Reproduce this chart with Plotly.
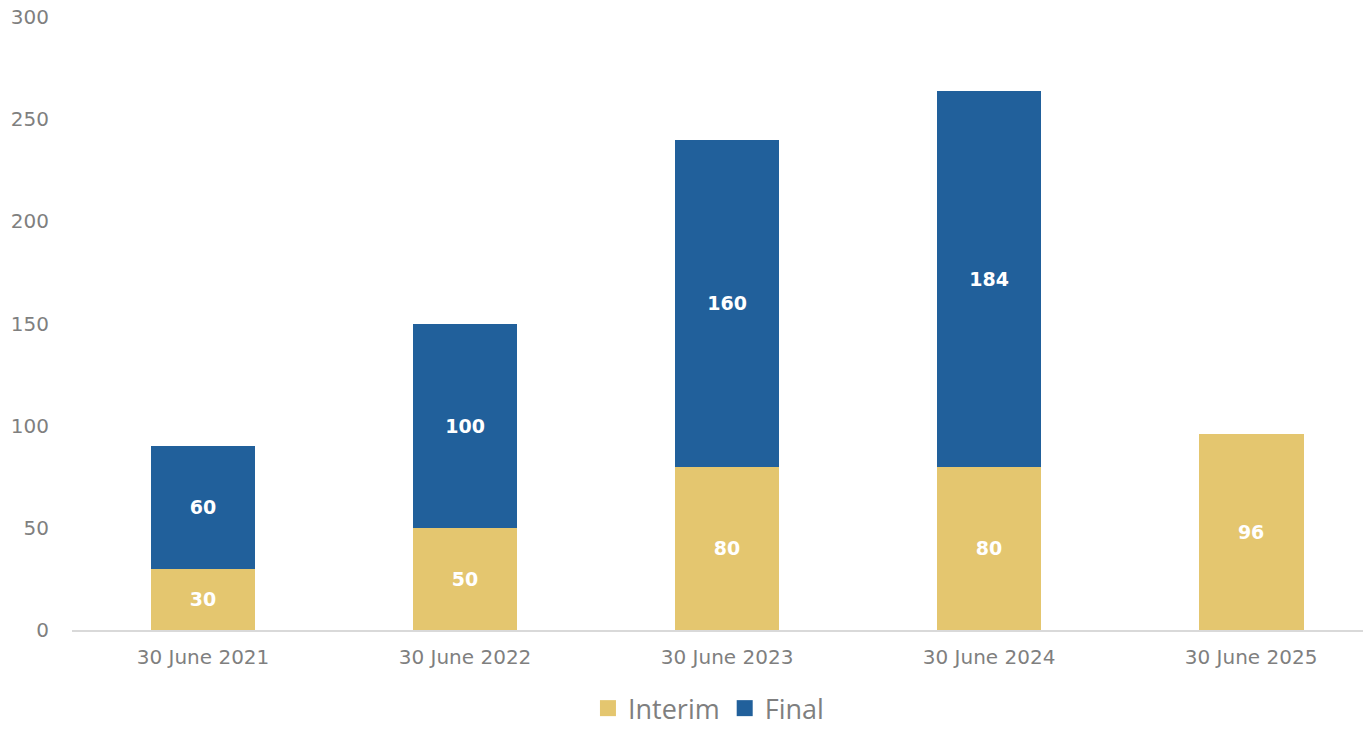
import plotly.graph_objects as go

categories = ["30 June 2021", "30 June 2022", "30 June 2023", "30 June 2024", "30 June 2025"]
interim = [30, 50, 80, 80, 96]
final = [60, 100, 160, 184, None]
y_ticks = [0, 50, 100, 150, 200, 250, 300]

INTERIM_COLOR = "#E4C66F"
FINAL_COLOR = "#21609B"

tick_font = dict(family="DejaVu Sans, sans-serif", size=20, color="#7f7f7f")
label_font = dict(family="DejaVu Sans, sans-serif", size=19, color="white", weight="bold")

fig = go.Figure()
fig.add_trace(go.Bar(
    x=categories, y=interim, name="Interim", marker_color=INTERIM_COLOR,
    text=[str(v) for v in interim], textposition="inside", insidetextanchor="middle",
    textfont=label_font, width=0.4, marker_line_width=0, showlegend=False,
))
fig.add_trace(go.Bar(
    x=categories, y=final, name="Final", marker_color=FINAL_COLOR,
    text=[str(v) if v is not None else "" for v in final], textposition="inside",
    insidetextanchor="middle", textfont=label_font, width=0.4, marker_line_width=0,
    showlegend=False,
))
# legend entries with larger square swatches
for nm, col in [("Interim", INTERIM_COLOR), ("Final", FINAL_COLOR)]:
    fig.add_trace(go.Scatter(
        x=[None], y=[None], mode="markers", name=nm,
        marker=dict(symbol="square", size=17, color=col), showlegend=True,
    ))

fig.update_layout(
    barmode="stack",
    width=1363, height=729,
    margin=dict(l=72, r=0, t=17, b=99, autoexpand=False),
    plot_bgcolor="white", paper_bgcolor="white",
    showlegend=True,
    legend=dict(orientation="h", x=0.493, xanchor="center",
                yref="container", y=0.028, yanchor="middle",
                font=dict(family="Open Sans, Liberation Sans, sans-serif", size=27, color="#7f7f7f"),
                traceorder="normal", itemwidth=30),
    xaxis=dict(range=[-0.5, 4.427], showgrid=False, showline=True, linecolor="#d9d9d9",
               linewidth=2, tickfont=tick_font, ticks="outside", ticklen=8, tickcolor="white"),
    yaxis=dict(range=[0, 300], tickvals=y_ticks, showgrid=False, zeroline=False, showline=False,
               tickfont=tick_font, ticks="outside", ticklen=18, tickcolor="white"),
)

fig.write_html("out.html")
